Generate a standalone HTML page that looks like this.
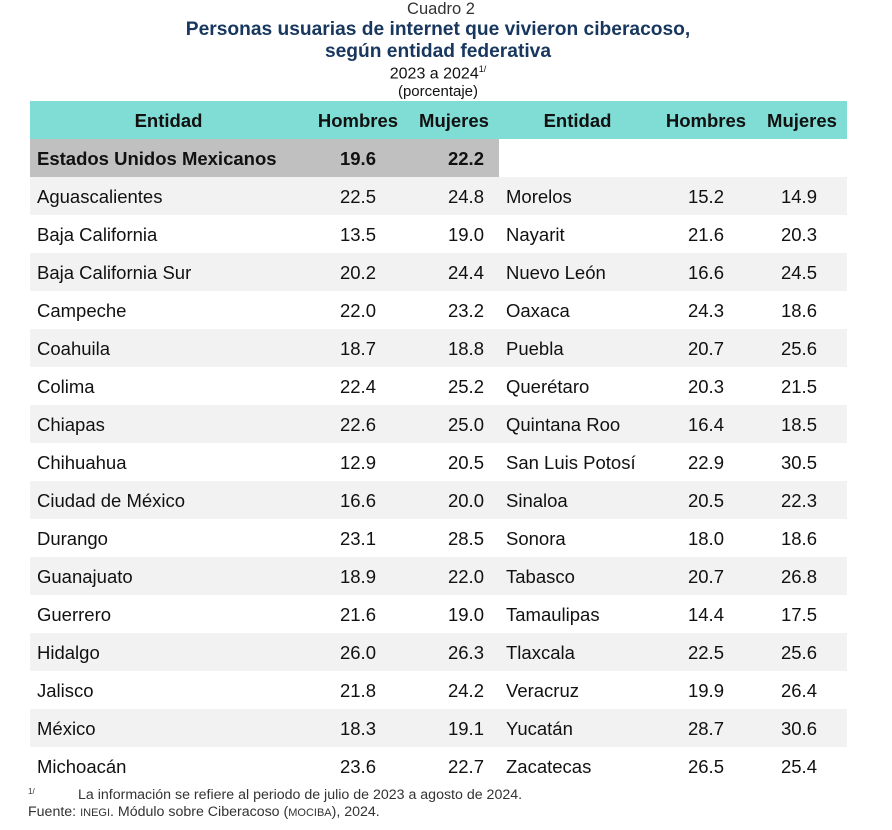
<!DOCTYPE html>
<html><head><meta charset="utf-8"><style>
body{margin:0;width:892px;height:830px;background:#fff;font-family:"Liberation Sans",sans-serif;position:relative;overflow:hidden;color:#111}
.t{position:absolute;left:-8px;width:892px;text-align:center;white-space:nowrap}
.r{position:absolute;left:30px;width:817px;height:38px}
.c{position:absolute;top:1px;line-height:38px;font-size:18.5px;white-space:nowrap}
.n{width:80px;margin-left:-40px;text-align:center}
</style></head><body>
<div class="t" style="top:0px;font-size:16.5px;color:#333;left:-5px">Cuadro 2</div>
<div class="t" style="top:19px;font-size:19.2px;font-weight:bold;color:#17375e">Personas usuarias de internet que vivieron ciberacoso,</div>
<div class="t" style="top:41px;font-size:19.2px;font-weight:bold;color:#17375e">según entidad federativa</div>
<div class="t" style="top:64px;font-size:16px">2023 a 2024<sup style="font-size:9px">1/</sup></div>
<div class="t" style="top:83px;font-size:15px">(porcentaje)</div>
<div class="r" style="top:101px;background:#80ddd5;font-weight:bold">
<div class="c" style="left:0;width:277px;text-align:center;font-weight:bold">Entidad</div>
<div class="c n" style="left:328px;width:100px;margin-left:-50px;font-weight:bold">Hombres</div>
<div class="c n" style="left:424px;width:100px;margin-left:-50px;font-weight:bold">Mujeres</div>
<div class="c" style="left:469px;width:157px;text-align:center;font-weight:bold">Entidad</div>
<div class="c n" style="left:676px;width:100px;margin-left:-50px;font-weight:bold">Hombres</div>
<div class="c n" style="left:772px;width:100px;margin-left:-50px;font-weight:bold">Mujeres</div>
</div>
<div class="r" style="top:139px;width:469px;background:#c0c0c0;font-weight:bold">
<div class="c" style="left:7px;font-weight:bold">Estados Unidos Mexicanos</div>
<div class="c n" style="left:328px;font-weight:bold">19.6</div>
<div class="c n" style="left:436px;font-weight:bold">22.2</div>
</div>
<div id="rows"></div>
<script>
var d=[["Aguascalientes","22.5","24.8","Morelos","15.2","14.9"],["Baja California","13.5","19.0","Nayarit","21.6","20.3"],["Baja California Sur","20.2","24.4","Nuevo León","16.6","24.5"],["Campeche","22.0","23.2","Oaxaca","24.3","18.6"],["Coahuila","18.7","18.8","Puebla","20.7","25.6"],["Colima","22.4","25.2","Querétaro","20.3","21.5"],["Chiapas","22.6","25.0","Quintana Roo","16.4","18.5"],["Chihuahua","12.9","20.5","San Luis Potosí","22.9","30.5"],["Ciudad de México","16.6","20.0","Sinaloa","20.5","22.3"],["Durango","23.1","28.5","Sonora","18.0","18.6"],["Guanajuato","18.9","22.0","Tabasco","20.7","26.8"],["Guerrero","21.6","19.0","Tamaulipas","14.4","17.5"],["Hidalgo","26.0","26.3","Tlaxcala","22.5","25.6"],["Jalisco","21.8","24.2","Veracruz","19.9","26.4"],["México","18.3","19.1","Yucatán","28.7","30.6"],["Michoacán","23.6","22.7","Zacatecas","26.5","25.4"]];
var h="";d.forEach(function(r,i){h+='<div class="r" style="top:'+(177+i*38)+'px;background:'+(i%2==0?'#f2f2f2':'#fff')+'"><div class="c" style="left:7px">'+r[0]+'</div><div class="c n" style="left:328px">'+r[1]+'</div><div class="c n" style="left:436px">'+r[2]+'</div><div class="c" style="left:476px">'+r[3]+'</div><div class="c n" style="left:676px">'+r[4]+'</div><div class="c n" style="left:769px">'+r[5]+'</div></div>';});
document.getElementById("rows").innerHTML=h;
</script>
<div style="position:absolute;top:787px;left:28px;font-size:8px;color:#333">1/</div>
<div style="position:absolute;top:787px;left:78px;font-size:14.2px;color:#333">La información se refiere al periodo de julio de 2023 a agosto de 2024.</div>
<div style="position:absolute;top:804px;left:28px;font-size:14.2px;color:#333">Fuente: <span style="font-size:11px">INEGI</span>. Módulo sobre Ciberacoso (<span style="font-size:11px">MOCIBA</span>), 2024.</div>
</body></html>
